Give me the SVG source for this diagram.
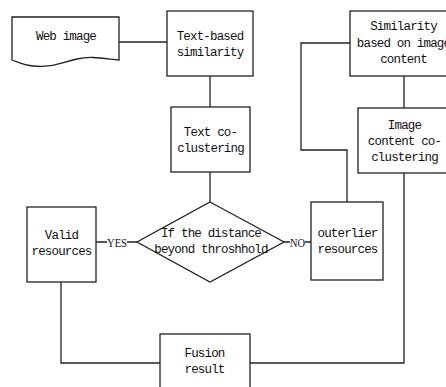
<svg xmlns="http://www.w3.org/2000/svg" width="446" height="387" viewBox="0 0 446 387">
  <style>
    .box { fill: #ffffff; stroke: #222; stroke-width: 1.3; }
    .wire { fill: none; stroke: #222; stroke-width: 1.3; }
    .t { font-family: "Liberation Mono", "DejaVu Sans Mono", monospace; font-size: 12.5px; letter-spacing: -0.83px; fill: #111; text-anchor: middle; }
    .lbl { font-family: "Liberation Serif", "DejaVu Serif", serif; font-size: 13px; fill: #111; text-anchor: middle; }
  </style>
  <rect width="446" height="387" fill="#ffffff"/>

  <!-- connectors -->
  <g id="connectors">
    <path class="wire" d="M119 42 H167"/>
    <path class="wire" d="M210 76 V107"/>
    <path class="wire" d="M210 172 V202"/>
    <path class="wire" d="M404 76 V108"/>
    <path class="wire" d="M347 202 V150 H301 V43 H350"/>
    <path class="wire" d="M96 242 H107 M127 242 H137"/>
    <path class="wire" d="M284 242 H290 M305 242 H311"/>
    <path class="wire" d="M61 282 V363 H160"/>
    <path class="wire" d="M404 173 V363 H250"/>
    <text class="lbl" x="117" y="247" textLength="20" lengthAdjust="spacingAndGlyphs">YES</text>
    <text class="lbl" x="297.5" y="246.5" textLength="15" lengthAdjust="spacingAndGlyphs">NO</text>
  </g>

  <g id="web-image">
    <path class="box" d="M12 17 H119 V60 C100 58 90 56 77 59 C60 63 50 68 33 66 C24 65 18 62 12 60 Z"/>
    <text class="t" x="66" y="40">Web image</text>
  </g>

  <g id="text-similarity">
    <rect class="box" x="167" y="11" width="86" height="65"/>
    <text class="t" x="210" y="40">Text-based</text>
    <text class="t" x="210" y="56">similarity</text>
  </g>

  <g id="text-coclustering">
    <rect class="box" x="171" y="107" width="79" height="65"/>
    <text class="t" x="210.5" y="136">Text co-</text>
    <text class="t" x="210.5" y="152">clustering</text>
  </g>

  <g id="image-similarity">
    <rect class="box" x="350" y="11" width="110" height="65"/>
    <text class="t" x="403.5" y="30">Similarity</text>
    <text class="t" x="403.5" y="47">based on image</text>
    <text class="t" x="403.5" y="63">content</text>
  </g>

  <g id="image-coclustering">
    <rect class="box" x="358" y="108" width="102" height="65"/>
    <text class="t" x="404.5" y="129">Image</text>
    <text class="t" x="404.5" y="145">content co-</text>
    <text class="t" x="404.5" y="161">clustering</text>
  </g>

  <g id="threshold-decision">
    <path class="box" d="M210 202 L284 242 L210 282 L137 242 Z"/>
    <text class="t" x="211" y="237">If the distance</text>
    <text class="t" x="211" y="253">beyond throshhold</text>
  </g>

  <g id="valid-resources">
    <rect class="box" x="27" y="207" width="69" height="75"/>
    <text class="t" x="61.5" y="239">Valid</text>
    <text class="t" x="61.5" y="255">resources</text>
  </g>

  <g id="outlier-resources">
    <rect class="box" x="311" y="202" width="72" height="78"/>
    <text class="t" x="347.5" y="237">outerlier</text>
    <text class="t" x="347.5" y="253">resources</text>
  </g>

  <g id="fusion-result">
    <rect class="box" x="160" y="334" width="90" height="70"/>
    <text class="t" x="204.5" y="357">Fusion</text>
    <text class="t" x="204.5" y="373">result</text>
  </g>
</svg>
